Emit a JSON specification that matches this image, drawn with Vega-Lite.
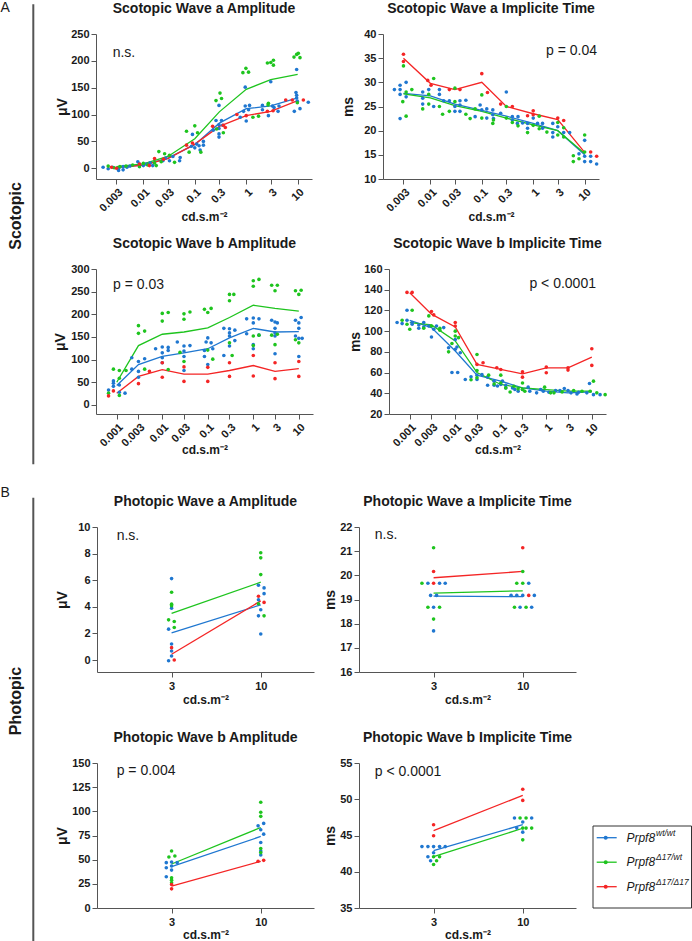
{
"$schema": "https://vega.github.io/schema/vega-lite/v6.json",
"padding": 0,
"autosize": {"type": "pad"},
"bounds": "flush",
"spacing": 493,
"config": {
 "view": {"stroke": null},
 "font": "Liberation Sans",
 "axis": {"grid": false, "domainColor": "#555", "tickColor": "#555", "tickSize": 5, "labelFont": "Liberation Sans", "labelFontSize": 11, "labelFontWeight": "bold", "labelColor": "#1a1a1a", "labelPadding": 2, "labelOverlap": false, "labelFlush": false, "titleFont": "Liberation Sans", "titleFontWeight": "bold", "titleColor": "#1a1a1a", "titleFontSize": 14},
 "title": {"font": "Liberation Sans", "fontSize": 14, "fontWeight": "bold", "color": "#1a1a1a", "anchor": "middle", "frame": "group", "offset": 12.5, "baseline": "alphabetic"},
 "text": {"font": "Liberation Sans"}
},
"datasets": {
 "pts": [
{"p":1,"g":"wt","x":0.00165,"y":2},{"p":1,"g":"wt","x":0.00207,"y":-1},{"p":1,"g":"wt","x":0.00251,"y":2},{"p":1,"g":"wt","x":0.0033,"y":0},{"p":1,"g":"wt","x":0.0033,"y":-4},{"p":1,"g":"wt","x":0.00404,"y":-3},{"p":1,"g":"wt","x":0.00404,"y":3},{"p":1,"g":"wt","x":0.0048,"y":2},{"p":1,"g":"wt","x":0.0055,"y":4},
{"p":1,"g":"wt","x":0.0078,"y":12},{"p":1,"g":"wt","x":0.0084,"y":8},{"p":1,"g":"wt","x":0.01,"y":5},{"p":1,"g":"wt","x":0.0113,"y":8},{"p":1,"g":"wt","x":0.0135,"y":10},{"p":1,"g":"wt","x":0.0152,"y":5},
{"p":1,"g":"wt","x":0.024,"y":14},{"p":1,"g":"wt","x":0.0271,"y":19},{"p":1,"g":"wt","x":0.0322,"y":14},{"p":1,"g":"wt","x":0.0375,"y":22},{"p":1,"g":"wt","x":0.0506,"y":14},{"p":1,"g":"wt","x":0.052,"y":20},
{"p":1,"g":"wt","x":0.0861,"y":41},{"p":1,"g":"wt","x":0.09,"y":63},{"p":1,"g":"wt","x":0.1,"y":38},{"p":1,"g":"wt","x":0.109,"y":45},{"p":1,"g":"wt","x":0.121,"y":42},{"p":1,"g":"wt","x":0.127,"y":34},{"p":1,"g":"wt","x":0.147,"y":50},{"p":1,"g":"wt","x":0.147,"y":43},
{"p":1,"g":"wt","x":0.2287,"y":71},{"p":1,"g":"wt","x":0.2585,"y":89},{"p":1,"g":"wt","x":0.2955,"y":81},{"p":1,"g":"wt","x":0.2955,"y":74},{"p":1,"g":"wt","x":0.2955,"y":64},{"p":1,"g":"wt","x":0.2955,"y":58},{"p":1,"g":"wt","x":0.331,"y":89},{"p":1,"g":"wt","x":0.3483,"y":80},{"p":1,"g":"wt","x":0.2955,"y":117},
{"p":1,"g":"wt","x":0.764,"y":95},{"p":1,"g":"wt","x":0.887,"y":106},{"p":1,"g":"wt","x":0.956,"y":116},{"p":1,"g":"wt","x":1,"y":88},{"p":1,"g":"wt","x":1.11,"y":109},{"p":1,"g":"wt","x":1.16,"y":117},{"p":1,"g":"wt","x":0.956,"y":151},
{"p":1,"g":"wt","x":2.066,"y":109},{"p":1,"g":"wt","x":2.066,"y":117},{"p":1,"g":"wt","x":2.7,"y":98},{"p":1,"g":"wt","x":3,"y":161},{"p":1,"g":"wt","x":3.23,"y":116},{"p":1,"g":"wt","x":3.48,"y":113},{"p":1,"g":"wt","x":4.16,"y":106},{"p":1,"g":"wt","x":4.34,"y":116},
{"p":1,"g":"wt","x":8.61,"y":106},{"p":1,"g":"wt","x":9.28,"y":141},{"p":1,"g":"wt","x":9.56,"y":136},{"p":1,"g":"wt","x":9.56,"y":131},{"p":1,"g":"wt","x":9.85,"y":125},{"p":1,"g":"wt","x":9.56,"y":184},{"p":1,"g":"wt","x":11.1,"y":111},{"p":1,"g":"wt","x":16.1,"y":123},
{"p":1,"g":"d17","x":0.00207,"y":4},{"p":1,"g":"d17","x":0.0027,"y":1},{"p":1,"g":"d17","x":0.0035,"y":3},{"p":1,"g":"d17","x":0.0046,"y":4},{"p":1,"g":"d17","x":0.0062,"y":6},
{"p":1,"g":"d17","x":0.0084,"y":3},{"p":1,"g":"d17","x":0.01,"y":9},{"p":1,"g":"d17","x":0.0121,"y":6},{"p":1,"g":"d17","x":0.0178,"y":5},
{"p":1,"g":"d17","x":0.0165,"y":10},{"p":1,"g":"d17","x":0.02,"y":31},{"p":1,"g":"d17","x":0.0222,"y":12},{"p":1,"g":"d17","x":0.0259,"y":27},{"p":1,"g":"d17","x":0.0322,"y":24},{"p":1,"g":"d17","x":0.0404,"y":11},
{"p":1,"g":"d17","x":0.069,"y":69},{"p":1,"g":"d17","x":0.0776,"y":30},{"p":1,"g":"d17","x":0.1,"y":79},{"p":1,"g":"d17","x":0.113,"y":66},{"p":1,"g":"d17","x":0.131,"y":30},
{"p":1,"g":"d17","x":0.2585,"y":126},{"p":1,"g":"d17","x":0.309,"y":140},{"p":1,"g":"d17","x":0.331,"y":130},{"p":1,"g":"d17","x":0.2664,"y":73},{"p":1,"g":"d17","x":0.3587,"y":66},
{"p":1,"g":"d17","x":0.861,"y":178},{"p":1,"g":"d17","x":0.985,"y":186},{"p":1,"g":"d17","x":1.11,"y":179},{"p":1,"g":"d17","x":1.348,"y":95},{"p":1,"g":"d17","x":1.737,"y":97},
{"p":1,"g":"d17","x":2.58,"y":196},{"p":1,"g":"d17","x":3,"y":197},{"p":1,"g":"d17","x":3.38,"y":201},{"p":1,"g":"d17","x":3.38,"y":192},{"p":1,"g":"d17","x":2.7,"y":121},{"p":1,"g":"d17","x":2.66,"y":118},
{"p":1,"g":"d17","x":8.48,"y":207},{"p":1,"g":"d17","x":9.56,"y":212},{"p":1,"g":"d17","x":10.3,"y":214},{"p":1,"g":"d17","x":11.1,"y":206},{"p":1,"g":"d17","x":9.85,"y":122},
{"p":1,"g":"dd","x":0.0024,"y":2},{"p":1,"g":"dd","x":0.003,"y":0},{"p":1,"g":"dd","x":0.0084,"y":8},{"p":1,"g":"dd","x":0.0131,"y":5},{"p":1,"g":"dd","x":0.0165,"y":18},{"p":1,"g":"dd","x":0.0247,"y":17},{"p":1,"g":"dd","x":0.069,"y":43},{"p":1,"g":"dd","x":0.09,"y":47},{"p":1,"g":"dd","x":0.2221,"y":78},{"p":1,"g":"dd","x":0.3587,"y":80},{"p":1,"g":"dd","x":0.3924,"y":76},{"p":1,"g":"dd","x":0.658,"y":100},{"p":1,"g":"dd","x":1,"y":98},{"p":1,"g":"dd","x":2.58,"y":106},{"p":1,"g":"dd","x":3.33,"y":107},{"p":1,"g":"dd","x":5.86,"y":127},{"p":1,"g":"dd","x":12.9,"y":127},{"p":1,"g":"dd","x":7.87,"y":127},

{"p":2,"g":"wt","x":0.002,"y":28.5},{"p":2,"g":"wt","x":0.00258,"y":28.5},{"p":2,"g":"wt","x":0.00258,"y":27.5},{"p":2,"g":"wt","x":0.00258,"y":22.5},{"p":2,"g":"wt","x":0.00338,"y":30},{"p":2,"g":"wt","x":0.00338,"y":27},{"p":2,"g":"wt","x":0.00258,"y":29.4},
{"p":2,"g":"wt","x":0.0071,"y":28},{"p":2,"g":"wt","x":0.0071,"y":25.5},{"p":2,"g":"wt","x":0.0071,"y":26.7},{"p":2,"g":"wt","x":0.0093,"y":28.5},{"p":2,"g":"wt","x":0.0116,"y":25},{"p":2,"g":"wt","x":0.015,"y":28.5},{"p":2,"g":"wt","x":0.015,"y":27.5},{"p":2,"g":"wt","x":0.0182,"y":26.2},
{"p":2,"g":"wt","x":0.0234,"y":26.2},{"p":2,"g":"wt","x":0.03,"y":25},{"p":2,"g":"wt","x":0.03,"y":24},{"p":2,"g":"wt","x":0.0376,"y":26.2},{"p":2,"g":"wt","x":0.0376,"y":24},{"p":2,"g":"wt","x":0.049,"y":26.3},{"p":2,"g":"wt","x":0.0376,"y":25.3},
{"p":2,"g":"wt","x":0.0742,"y":22.9},{"p":2,"g":"wt","x":0.0928,"y":25.3},{"p":2,"g":"wt","x":0.1,"y":24.3},{"p":2,"g":"wt","x":0.125,"y":24.5},{"p":2,"g":"wt","x":0.125,"y":22.6},{"p":2,"g":"wt","x":0.1636,"y":24.3},{"p":2,"g":"wt","x":0.1636,"y":23.3},{"p":2,"g":"wt","x":0.1686,"y":22.5},
{"p":2,"g":"wt","x":0.2328,"y":23.6},{"p":2,"g":"wt","x":0.3,"y":28},{"p":2,"g":"wt","x":0.3925,"y":22.9},{"p":2,"g":"wt","x":0.3925,"y":22.2},{"p":2,"g":"wt","x":0.506,"y":22.9},{"p":2,"g":"wt","x":0.491,"y":21.5},
{"p":2,"g":"wt","x":0.62,"y":21.6},{"p":2,"g":"wt","x":0.776,"y":21.5},{"p":2,"g":"wt","x":0.776,"y":20.5},{"p":2,"g":"wt","x":1,"y":22.6},{"p":2,"g":"wt","x":1.214,"y":21.5},{"p":2,"g":"wt","x":1.518,"y":21.5},{"p":2,"g":"wt","x":1.518,"y":20.5},
{"p":2,"g":"wt","x":2.4,"y":21.5},{"p":2,"g":"wt","x":2.4,"y":19.6},{"p":2,"g":"wt","x":2.4,"y":18.7},{"p":2,"g":"wt","x":3,"y":20.8},{"p":2,"g":"wt","x":3.91,"y":19.6},{"p":2,"g":"wt","x":5.1,"y":19.6},
{"p":2,"g":"wt","x":7.76,"y":15.2},{"p":2,"g":"wt","x":10,"y":18},{"p":2,"g":"wt","x":10,"y":14.7},{"p":2,"g":"wt","x":10,"y":13.6},{"p":2,"g":"wt","x":13.08,"y":14.7},{"p":2,"g":"wt","x":13.08,"y":13.6},{"p":2,"g":"wt","x":17.1,"y":13.1},
{"p":2,"g":"d17","x":0.003,"y":33.4},{"p":2,"g":"d17","x":0.00291,"y":26},{"p":2,"g":"d17","x":0.00338,"y":28},{"p":2,"g":"d17","x":0.00338,"y":23},{"p":2,"g":"d17","x":0.00436,"y":28.5},
{"p":2,"g":"d17","x":0.0071,"y":24.5},{"p":2,"g":"d17","x":0.0093,"y":27.5},{"p":2,"g":"d17","x":0.0093,"y":25.5},{"p":2,"g":"d17","x":0.0116,"y":30.8},{"p":2,"g":"d17","x":0.015,"y":25},
{"p":2,"g":"d17","x":0.0173,"y":23.4},{"p":2,"g":"d17","x":0.0234,"y":24},{"p":2,"g":"d17","x":0.03,"y":28.8},{"p":2,"g":"d17","x":0.03,"y":26},{"p":2,"g":"d17","x":0.049,"y":23.4},
{"p":2,"g":"d17","x":0.0593,"y":22.5},{"p":2,"g":"d17","x":0.0742,"y":24.5},{"p":2,"g":"d17","x":0.1,"y":27.4},{"p":2,"g":"d17","x":0.1,"y":22.6},{"p":2,"g":"d17","x":0.1686,"y":22.2},{"p":2,"g":"d17","x":0.1636,"y":21.5},
{"p":2,"g":"d17","x":0.3,"y":25},{"p":2,"g":"d17","x":0.3,"y":22.6},{"p":2,"g":"d17","x":0.3925,"y":21.7},{"p":2,"g":"d17","x":0.506,"y":21},
{"p":2,"g":"d17","x":0.776,"y":19.6},{"p":2,"g":"d17","x":1,"y":21.1},{"p":2,"g":"d17","x":1.308,"y":23},{"p":2,"g":"d17","x":1.308,"y":20.4},{"p":2,"g":"d17","x":1.843,"y":19.7},
{"p":2,"g":"d17","x":3,"y":21.7},{"p":2,"g":"d17","x":3,"y":19.1},{"p":2,"g":"d17","x":3.91,"y":18.7},{"p":2,"g":"d17","x":3.91,"y":20.6},
{"p":2,"g":"d17","x":6.02,"y":14.8},{"p":2,"g":"d17","x":6.02,"y":13.6},{"p":2,"g":"d17","x":7.76,"y":14.2},{"p":2,"g":"d17","x":10,"y":19.1},{"p":2,"g":"d17","x":10,"y":15.6},
{"p":2,"g":"dd","x":0.003,"y":35.8},{"p":2,"g":"dd","x":0.003,"y":34.3},{"p":2,"g":"dd","x":0.0089,"y":30.4},{"p":2,"g":"dd","x":0.0103,"y":29.4},{"p":2,"g":"dd","x":0.0234,"y":28.5},{"p":2,"g":"dd","x":0.0376,"y":28.5},{"p":2,"g":"dd","x":0.1,"y":31.8},{"p":2,"g":"dd","x":0.1289,"y":27.9},{"p":2,"g":"dd","x":0.2328,"y":25.5},{"p":2,"g":"dd","x":0.3925,"y":25},{"p":2,"g":"dd","x":0.776,"y":23.1},{"p":2,"g":"dd","x":1,"y":24.1},{"p":2,"g":"dd","x":1,"y":23.3},{"p":2,"g":"dd","x":3,"y":22.6},{"p":2,"g":"dd","x":3.91,"y":22.1},{"p":2,"g":"dd","x":13.08,"y":15.6},{"p":2,"g":"dd","x":17.1,"y":14.7},

{"p":3,"g":"wt","x":0.00066,"y":33},{"p":3,"g":"wt","x":0.000845,"y":53},{"p":3,"g":"wt","x":0.000845,"y":48},{"p":3,"g":"wt","x":0.000845,"y":41},{"p":3,"g":"wt","x":0.00114,"y":44},{"p":3,"g":"wt","x":0.00114,"y":28},{"p":3,"g":"wt","x":0.00152,"y":26},
{"p":3,"g":"wt","x":0.00214,"y":104},{"p":3,"g":"wt","x":0.00214,"y":79},{"p":3,"g":"wt","x":0.003,"y":96},{"p":3,"g":"wt","x":0.003,"y":74},{"p":3,"g":"wt","x":0.0041,"y":102},{"p":3,"g":"wt","x":0.003,"y":61},
{"p":3,"g":"wt","x":0.00714,"y":124},{"p":3,"g":"wt","x":0.01,"y":128},{"p":3,"g":"wt","x":0.01,"y":115},{"p":3,"g":"wt","x":0.01,"y":104},{"p":3,"g":"wt","x":0.01,"y":93},{"p":3,"g":"wt","x":0.0135,"y":127},{"p":3,"g":"wt","x":0.0135,"y":120},
{"p":3,"g":"wt","x":0.0214,"y":139},{"p":3,"g":"wt","x":0.03,"y":130},{"p":3,"g":"wt","x":0.03,"y":119},{"p":3,"g":"wt","x":0.03,"y":107},{"p":3,"g":"wt","x":0.03,"y":76},{"p":3,"g":"wt","x":0.0406,"y":131},
{"p":3,"g":"wt","x":0.0845,"y":120},{"p":3,"g":"wt","x":0.0919,"y":139},{"p":3,"g":"wt","x":0.1,"y":148},{"p":3,"g":"wt","x":0.1,"y":89},{"p":3,"g":"wt","x":0.1184,"y":137},{"p":3,"g":"wt","x":0.1287,"y":124},{"p":3,"g":"wt","x":0.0845,"y":107},
{"p":3,"g":"wt","x":0.2253,"y":169},{"p":3,"g":"wt","x":0.3,"y":168},{"p":3,"g":"wt","x":0.3,"y":159},{"p":3,"g":"wt","x":0.3,"y":152},{"p":3,"g":"wt","x":0.3931,"y":165},{"p":3,"g":"wt","x":0.3931,"y":142},{"p":3,"g":"wt","x":0.2253,"y":109},{"p":3,"g":"wt","x":0.3,"y":130},
{"p":3,"g":"wt","x":0.714,"y":190},{"p":3,"g":"wt","x":1,"y":192},{"p":3,"g":"wt","x":1,"y":181},{"p":3,"g":"wt","x":1.332,"y":190},{"p":3,"g":"wt","x":0.714,"y":157},{"p":3,"g":"wt","x":1,"y":133},{"p":3,"g":"wt","x":1,"y":124},{"p":3,"g":"wt","x":1.332,"y":154},
{"p":3,"g":"wt","x":2.535,"y":187},{"p":3,"g":"wt","x":3,"y":183},{"p":3,"g":"wt","x":3.375,"y":181},{"p":3,"g":"wt","x":3,"y":169},{"p":3,"g":"wt","x":3,"y":159},{"p":3,"g":"wt","x":3,"y":152},{"p":3,"g":"wt","x":3,"y":113},
{"p":3,"g":"wt","x":8.45,"y":187},{"p":3,"g":"wt","x":10,"y":181},{"p":3,"g":"wt","x":11.25,"y":193},{"p":3,"g":"wt","x":10,"y":169},{"p":3,"g":"wt","x":8.45,"y":152},{"p":3,"g":"wt","x":10,"y":147},{"p":3,"g":"wt","x":11.84,"y":147},{"p":3,"g":"wt","x":10,"y":107},
{"p":3,"g":"d17","x":0.00066,"y":26},{"p":3,"g":"d17","x":0.000845,"y":79},{"p":3,"g":"d17","x":0.00114,"y":76},{"p":3,"g":"d17","x":0.00114,"y":59},{"p":3,"g":"d17","x":0.00114,"y":21},{"p":3,"g":"d17","x":0.0016,"y":76},
{"p":3,"g":"d17","x":0.003,"y":175},{"p":3,"g":"d17","x":0.003,"y":158},{"p":3,"g":"d17","x":0.0041,"y":163},{"p":3,"g":"d17","x":0.0041,"y":79},
{"p":3,"g":"d17","x":0.01,"y":202},{"p":3,"g":"d17","x":0.01,"y":185},{"p":3,"g":"d17","x":0.0135,"y":204},{"p":3,"g":"d17","x":0.0135,"y":78},
{"p":3,"g":"d17","x":0.03,"y":201},{"p":3,"g":"d17","x":0.03,"y":189},{"p":3,"g":"d17","x":0.0406,"y":205},{"p":3,"g":"d17","x":0.0245,"y":116},{"p":3,"g":"d17","x":0.03,"y":96},
{"p":3,"g":"d17","x":0.0845,"y":211},{"p":3,"g":"d17","x":0.1,"y":204},{"p":3,"g":"d17","x":0.1184,"y":213},{"p":3,"g":"d17","x":0.1,"y":121},{"p":3,"g":"d17","x":0.1287,"y":101},
{"p":3,"g":"d17","x":0.3,"y":230},{"p":3,"g":"d17","x":0.3,"y":244},{"p":3,"g":"d17","x":0.3734,"y":244},{"p":3,"g":"d17","x":0.3,"y":137},{"p":3,"g":"d17","x":0.3432,"y":109},
{"p":3,"g":"d17","x":1,"y":274},{"p":3,"g":"d17","x":1,"y":262},{"p":3,"g":"d17","x":1.332,"y":277},{"p":3,"g":"d17","x":1,"y":152},{"p":3,"g":"d17","x":1.332,"y":154},{"p":3,"g":"d17","x":1,"y":131},
{"p":3,"g":"d17","x":2.535,"y":264},{"p":3,"g":"d17","x":3.375,"y":264},{"p":3,"g":"d17","x":3,"y":252},{"p":3,"g":"d17","x":2.535,"y":154},{"p":3,"g":"d17","x":3.375,"y":156},{"p":3,"g":"d17","x":3,"y":133},
{"p":3,"g":"d17","x":8.45,"y":252},{"p":3,"g":"d17","x":11.25,"y":253},{"p":3,"g":"d17","x":10,"y":244},{"p":3,"g":"d17","x":8.45,"y":144},{"p":3,"g":"d17","x":10,"y":137},
{"p":3,"g":"dd","x":0.00066,"y":20},{"p":3,"g":"dd","x":0.000845,"y":31},{"p":3,"g":"dd","x":0.003,"y":47},{"p":3,"g":"dd","x":0.00523,"y":74},{"p":3,"g":"dd","x":0.01,"y":93},{"p":3,"g":"dd","x":0.01,"y":61},{"p":3,"g":"dd","x":0.03,"y":84},{"p":3,"g":"dd","x":0.03,"y":52},{"p":3,"g":"dd","x":0.1,"y":83},{"p":3,"g":"dd","x":0.1,"y":52},{"p":3,"g":"dd","x":0.3,"y":93},{"p":3,"g":"dd","x":0.3,"y":63},{"p":3,"g":"dd","x":1,"y":109},{"p":3,"g":"dd","x":1,"y":64},{"p":3,"g":"dd","x":3,"y":93},{"p":3,"g":"dd","x":3,"y":58},{"p":3,"g":"dd","x":10,"y":96},{"p":3,"g":"dd","x":10,"y":63},

{"p":4,"g":"wt","x":0.000527,"y":108.3},{"p":4,"g":"wt","x":0.00068,"y":107.3},{"p":4,"g":"wt","x":0.00087,"y":110.5},{"p":4,"g":"wt","x":0.00087,"y":120.2},{"p":4,"g":"wt","x":0.00113,"y":108.3},{"p":4,"g":"wt","x":0.00113,"y":106.7},
{"p":4,"g":"wt","x":0.00158,"y":106},{"p":4,"g":"wt","x":0.00158,"y":102.8},{"p":4,"g":"wt","x":0.00203,"y":108.3},{"p":4,"g":"wt","x":0.00203,"y":104},{"p":4,"g":"wt","x":0.00262,"y":105},{"p":4,"g":"wt","x":0.003,"y":94.4},{"p":4,"g":"wt","x":0.00337,"y":101.8},{"p":4,"g":"wt","x":0.00557,"y":103.4},{"p":4,"g":"wt","x":0.00387,"y":105},
{"p":4,"g":"wt","x":0.00714,"y":84},{"p":4,"g":"wt","x":0.00845,"y":60},{"p":4,"g":"wt","x":0.0113,"y":60},{"p":4,"g":"wt","x":0.01,"y":92},{"p":4,"g":"wt","x":0.01,"y":82.4},{"p":4,"g":"wt","x":0.0109,"y":84.7},{"p":4,"g":"wt","x":0.0129,"y":79.2},
{"p":4,"g":"wt","x":0.0166,"y":53.3},{"p":4,"g":"wt","x":0.0222,"y":56},{"p":4,"g":"wt","x":0.03,"y":53.3},{"p":4,"g":"wt","x":0.03,"y":57.5},{"p":4,"g":"wt","x":0.0386,"y":58},{"p":4,"g":"wt","x":0.0514,"y":55.6},{"p":4,"g":"wt","x":0.0514,"y":47.8},
{"p":4,"g":"wt","x":0.0714,"y":51.7},{"p":4,"g":"wt","x":0.0714,"y":47.8},{"p":4,"g":"wt","x":0.1,"y":48.5},{"p":4,"g":"wt","x":0.1088,"y":51.7},{"p":4,"g":"wt","x":0.1287,"y":47.8},{"p":4,"g":"wt","x":0.1287,"y":45.2},{"p":4,"g":"wt","x":0.0845,"y":47},
{"p":4,"g":"wt","x":0.1814,"y":45.2},{"p":4,"g":"wt","x":0.2041,"y":43.6},{"p":4,"g":"wt","x":0.2412,"y":42},{"p":4,"g":"wt","x":0.3,"y":43.6},{"p":4,"g":"wt","x":0.3996,"y":45.9},{"p":4,"g":"wt","x":0.4335,"y":42},{"p":4,"g":"wt","x":0.613,"y":40.4},
{"p":4,"g":"wt","x":0.751,"y":43.6},{"p":4,"g":"wt","x":0.859,"y":42},{"p":4,"g":"wt","x":1.144,"y":41},{"p":4,"g":"wt","x":1.603,"y":42.6},{"p":4,"g":"wt","x":1.995,"y":42.6},
{"p":4,"g":"wt","x":2.486,"y":44.6},{"p":4,"g":"wt","x":3,"y":42.6},{"p":4,"g":"wt","x":3.489,"y":40.4},{"p":4,"g":"wt","x":4.73,"y":39.4},{"p":4,"g":"wt","x":5.14,"y":41},
{"p":4,"g":"wt","x":8.89,"y":49.4},{"p":4,"g":"wt","x":10.88,"y":38.7},{"p":4,"g":"wt","x":15.2,"y":38.7},{"p":4,"g":"wt","x":7.77,"y":40.4},
{"p":4,"g":"d17","x":0.00068,"y":110.5},{"p":4,"g":"d17","x":0.00087,"y":106.7},{"p":4,"g":"d17","x":0.001,"y":101.8},{"p":4,"g":"d17","x":0.00113,"y":120.2},
{"p":4,"g":"d17","x":0.00203,"y":102.8},{"p":4,"g":"d17","x":0.00262,"y":114.7},{"p":4,"g":"d17","x":0.003,"y":105},{"p":4,"g":"d17","x":0.00458,"y":102.8},{"p":4,"g":"d17","x":0.00458,"y":100.8},
{"p":4,"g":"d17","x":0.00714,"y":80},{"p":4,"g":"d17","x":0.00845,"y":88},{"p":4,"g":"d17","x":0.01,"y":95.3},{"p":4,"g":"d17","x":0.01,"y":100},{"p":4,"g":"d17","x":0.0118,"y":93.7},
{"p":4,"g":"d17","x":0.0222,"y":53},{"p":4,"g":"d17","x":0.03,"y":77.5},{"p":4,"g":"d17","x":0.03,"y":62},{"p":4,"g":"d17","x":0.03,"y":55},{"p":4,"g":"d17","x":0.0541,"y":57.5},
{"p":4,"g":"d17","x":0.0714,"y":49},{"p":4,"g":"d17","x":0.1,"y":50},{"p":4,"g":"d17","x":0.1,"y":57.5},{"p":4,"g":"d17","x":0.1287,"y":45.2},{"p":4,"g":"d17","x":0.1603,"y":41.3},
{"p":4,"g":"d17","x":0.1942,"y":46.8},{"p":4,"g":"d17","x":0.3,"y":50},{"p":4,"g":"d17","x":0.2412,"y":44.3},{"p":4,"g":"d17","x":0.3,"y":43.6},{"p":4,"g":"d17","x":0.338,"y":42},
{"p":4,"g":"d17","x":0.919,"y":45.9},{"p":4,"g":"d17","x":1.245,"y":40.4},{"p":4,"g":"d17","x":1.474,"y":40.4},
{"p":4,"g":"d17","x":2.22,"y":41.3},{"p":4,"g":"d17","x":3.99,"y":42.6},{"p":4,"g":"d17","x":6.09,"y":42},
{"p":4,"g":"d17","x":10.88,"y":51.7},{"p":4,"g":"d17","x":12.87,"y":40.4},{"p":4,"g":"d17","x":19.63,"y":38.7},{"p":4,"g":"d17","x":9.19,"y":42},
{"p":4,"g":"dd","x":0.00087,"y":137.4},{"p":4,"g":"dd","x":0.00113,"y":137.4},{"p":4,"g":"dd","x":0.003,"y":119},{"p":4,"g":"dd","x":0.00337,"y":115.7},{"p":4,"g":"dd","x":0.01,"y":108.3},{"p":4,"g":"dd","x":0.01,"y":105},{"p":4,"g":"dd","x":0.03,"y":67.9},{"p":4,"g":"dd","x":0.0408,"y":69.5},{"p":4,"g":"dd","x":0.0817,"y":64.6},{"p":4,"g":"dd","x":0.1,"y":63},{"p":4,"g":"dd","x":0.3,"y":60.7},{"p":4,"g":"dd","x":0.3,"y":55.6},{"p":4,"g":"dd","x":1,"y":65.3},{"p":4,"g":"dd","x":1,"y":59.8},{"p":4,"g":"dd","x":3,"y":64.6},{"p":4,"g":"dd","x":3,"y":62.4},{"p":4,"g":"dd","x":10,"y":83},{"p":4,"g":"dd","x":10,"y":66.9},

{"p":5,"g":"wt","x":3,"y":6.12},{"p":5,"g":"wt","x":3,"y":3.9},{"p":5,"g":"wt","x":2.765,"y":2.32},{"p":5,"g":"wt","x":3,"y":1.2},{"p":5,"g":"wt","x":3,"y":0.68},{"p":5,"g":"wt","x":3,"y":0.3},{"p":5,"g":"wt","x":2.765,"y":-0.05},
{"p":5,"g":"wt","x":9.82,"y":5.62},{"p":5,"g":"wt","x":10.26,"y":5.42},{"p":5,"g":"wt","x":10.26,"y":4.99},{"p":5,"g":"wt","x":9.82,"y":4.53},{"p":5,"g":"wt","x":10,"y":3.78},{"p":5,"g":"wt","x":9.82,"y":3.32},{"p":5,"g":"wt","x":10,"y":1.96},
{"p":5,"g":"d17","x":3,"y":5.09},{"p":5,"g":"d17","x":3,"y":4.2},{"p":5,"g":"d17","x":3,"y":4.08},{"p":5,"g":"d17","x":2.765,"y":3.02},{"p":5,"g":"d17","x":3.21,"y":2.9},{"p":5,"g":"d17","x":3.21,"y":2.44},
{"p":5,"g":"d17","x":10,"y":8.06},{"p":5,"g":"d17","x":10,"y":7.68},{"p":5,"g":"d17","x":10,"y":6.42},{"p":5,"g":"d17","x":9.82,"y":4.23},{"p":5,"g":"d17","x":10.26,"y":3.32},
{"p":5,"g":"dd","x":3,"y":0.93},{"p":5,"g":"dd","x":3.21,"y":0},{"p":5,"g":"dd","x":9.82,"y":4.79},{"p":5,"g":"dd","x":10.26,"y":4.33},

{"p":6,"g":"d17","x":3,"y":21.14},{"p":6,"g":"d17","x":2.086,"y":19.67},{"p":6,"g":"wt","x":2.556,"y":19.67},{"p":6,"g":"wt","x":3.47,"y":19.67},{"p":6,"g":"wt","x":3.914,"y":19.67},
{"p":6,"g":"wt","x":2.765,"y":19.17},{"p":6,"g":"wt","x":3.235,"y":19.17},{"p":6,"g":"d17","x":2.556,"y":18.68},{"p":6,"g":"wt","x":3,"y":18.68},{"p":6,"g":"d17","x":3.47,"y":18.68},{"p":6,"g":"d17","x":3,"y":18.19},{"p":6,"g":"wt","x":3,"y":17.7},
{"p":6,"g":"d17","x":10,"y":20.16},{"p":6,"g":"d17","x":9.53,"y":19.67},{"p":6,"g":"d17","x":10,"y":19.67},{"p":6,"g":"wt","x":10.47,"y":19.67},
{"p":6,"g":"wt","x":9.086,"y":19.17},{"p":6,"g":"wt","x":9.53,"y":19.17},{"p":6,"g":"wt","x":10,"y":19.17},{"p":6,"g":"wt","x":10.91,"y":19.17},
{"p":6,"g":"d17","x":9.35,"y":18.68},{"p":6,"g":"wt","x":9.79,"y":18.68},{"p":6,"g":"d17","x":10.26,"y":18.68},{"p":6,"g":"wt","x":10.7,"y":18.68},
{"p":6,"g":"dd","x":3,"y":20.16},{"p":6,"g":"dd","x":3,"y":19.67},{"p":6,"g":"dd","x":10,"y":21.14},{"p":6,"g":"dd","x":10.47,"y":19.17},

{"p":7,"g":"wt","x":2.585,"y":46.9},{"p":7,"g":"wt","x":2.585,"y":41.7},{"p":7,"g":"wt","x":2.585,"y":32.3},{"p":7,"g":"wt","x":3,"y":47.6},{"p":7,"g":"wt","x":3,"y":43.4},{"p":7,"g":"wt","x":3,"y":39.2},{"p":7,"g":"wt","x":3.44,"y":46.9},
{"p":7,"g":"d17","x":2.79,"y":52.8},{"p":7,"g":"d17","x":3,"y":59},{"p":7,"g":"d17","x":3.26,"y":53.8},{"p":7,"g":"d17","x":3,"y":31.2},{"p":7,"g":"d17","x":3,"y":28.8},{"p":7,"g":"d17","x":3,"y":26},
{"p":7,"g":"wt","x":9.79,"y":85},{"p":7,"g":"wt","x":10,"y":80.9},{"p":7,"g":"wt","x":10.23,"y":87.5},{"p":7,"g":"wt","x":10.23,"y":76.4},{"p":7,"g":"wt","x":10,"y":67.7},{"p":7,"g":"wt","x":10,"y":59},{"p":7,"g":"wt","x":10,"y":54.9},
{"p":7,"g":"d17","x":10,"y":109.4},{"p":7,"g":"d17","x":10,"y":99},{"p":7,"g":"d17","x":10,"y":94.8},{"p":7,"g":"d17","x":10,"y":61.5},{"p":7,"g":"d17","x":10,"y":57.3},
{"p":7,"g":"dd","x":3,"y":24.3},{"p":7,"g":"dd","x":3,"y":19.8},{"p":7,"g":"dd","x":9.79,"y":48.3},{"p":7,"g":"dd","x":10.23,"y":49.3},

{"p":8,"g":"wt","x":2.086,"y":43.47},{"p":8,"g":"wt","x":2.556,"y":43.47},{"p":8,"g":"wt","x":3,"y":43.47},{"p":8,"g":"wt","x":3.47,"y":43.47},{"p":8,"g":"wt","x":3.914,"y":43.47},{"p":8,"g":"wt","x":3,"y":42.63},{"p":8,"g":"wt","x":2.556,"y":42.07},{"p":8,"g":"wt","x":2.765,"y":41.51},
{"p":8,"g":"d17","x":3,"y":42.07},{"p":8,"g":"d17","x":3.47,"y":42.07},{"p":8,"g":"d17","x":3.235,"y":41.51},{"p":8,"g":"d17","x":3,"y":41.0},
{"p":8,"g":"wt","x":9.35,"y":47.41},{"p":8,"g":"d17","x":9.79,"y":47.41},{"p":8,"g":"d17","x":10.26,"y":47.41},{"p":8,"g":"wt","x":10.7,"y":47.41},{"p":8,"g":"wt","x":10,"y":46.86},
{"p":8,"g":"wt","x":9.53,"y":46.02},{"p":8,"g":"d17","x":10,"y":46.02},{"p":8,"g":"d17","x":10.26,"y":46.02},{"p":8,"g":"d17","x":10.7,"y":46.02},{"p":8,"g":"wt","x":10,"y":45.46},{"p":8,"g":"d17","x":10,"y":44.4},
{"p":8,"g":"dd","x":3,"y":46.49},{"p":8,"g":"dd","x":3,"y":44.96},{"p":8,"g":"dd","x":10,"y":51.37},{"p":8,"g":"dd","x":10,"y":49.84}
 ],
 "means": [
{"p":1,"g":"wt","x":0.003,"y":2},{"p":1,"g":"wt","x":0.01,"y":6},{"p":1,"g":"wt","x":0.03,"y":19},{"p":1,"g":"wt","x":0.1,"y":44},{"p":1,"g":"wt","x":0.3,"y":84},{"p":1,"g":"wt","x":1,"y":111},{"p":1,"g":"wt","x":3,"y":116},{"p":1,"g":"wt","x":10,"y":131},
{"p":1,"g":"d17","x":0.003,"y":3},{"p":1,"g":"d17","x":0.01,"y":8},{"p":1,"g":"d17","x":0.03,"y":22},{"p":1,"g":"d17","x":0.1,"y":55},{"p":1,"g":"d17","x":0.3,"y":105},{"p":1,"g":"d17","x":1,"y":147},{"p":1,"g":"d17","x":3,"y":165},{"p":1,"g":"d17","x":10,"y":175},
{"p":1,"g":"dd","x":0.003,"y":1},{"p":1,"g":"dd","x":0.01,"y":6},{"p":1,"g":"dd","x":0.03,"y":18},{"p":1,"g":"dd","x":0.1,"y":45},{"p":1,"g":"dd","x":0.3,"y":78},{"p":1,"g":"dd","x":1,"y":98},{"p":1,"g":"dd","x":3,"y":106},{"p":1,"g":"dd","x":10,"y":126},
{"p":2,"g":"wt","x":0.003,"y":27.7},{"p":2,"g":"wt","x":0.01,"y":27.2},{"p":2,"g":"wt","x":0.03,"y":25.5},{"p":2,"g":"wt","x":0.1,"y":24.2},{"p":2,"g":"wt","x":0.3,"y":23},{"p":2,"g":"wt","x":1,"y":21.5},{"p":2,"g":"wt","x":3,"y":20},{"p":2,"g":"wt","x":10,"y":15},
{"p":2,"g":"d17","x":0.003,"y":27.6},{"p":2,"g":"d17","x":0.01,"y":26.8},{"p":2,"g":"d17","x":0.03,"y":25.2},{"p":2,"g":"d17","x":0.1,"y":24},{"p":2,"g":"d17","x":0.3,"y":22.6},{"p":2,"g":"d17","x":1,"y":21.2},{"p":2,"g":"d17","x":3,"y":20},{"p":2,"g":"d17","x":10,"y":15.3},
{"p":2,"g":"dd","x":0.003,"y":35},{"p":2,"g":"dd","x":0.01,"y":29.8},{"p":2,"g":"dd","x":0.03,"y":28.5},{"p":2,"g":"dd","x":0.1,"y":30},{"p":2,"g":"dd","x":0.3,"y":25},{"p":2,"g":"dd","x":1,"y":23.5},{"p":2,"g":"dd","x":3,"y":22.3},{"p":2,"g":"dd","x":10,"y":15.5},
{"p":3,"g":"wt","x":0.001,"y":43},{"p":3,"g":"wt","x":0.003,"y":89},{"p":3,"g":"wt","x":0.01,"y":107},{"p":3,"g":"wt","x":0.03,"y":115},{"p":3,"g":"wt","x":0.1,"y":124},{"p":3,"g":"wt","x":0.3,"y":148},{"p":3,"g":"wt","x":1,"y":169},{"p":3,"g":"wt","x":3,"y":161},{"p":3,"g":"wt","x":10,"y":162},
{"p":3,"g":"d17","x":0.001,"y":50},{"p":3,"g":"d17","x":0.003,"y":131},{"p":3,"g":"d17","x":0.01,"y":156},{"p":3,"g":"d17","x":0.03,"y":161},{"p":3,"g":"d17","x":0.1,"y":170},{"p":3,"g":"d17","x":0.3,"y":193},{"p":3,"g":"d17","x":1,"y":220},{"p":3,"g":"d17","x":3,"y":213},{"p":3,"g":"d17","x":10,"y":207},
{"p":3,"g":"dd","x":0.001,"y":26},{"p":3,"g":"dd","x":0.003,"y":63},{"p":3,"g":"dd","x":0.01,"y":78},{"p":3,"g":"dd","x":0.03,"y":68},{"p":3,"g":"dd","x":0.1,"y":68},{"p":3,"g":"dd","x":0.3,"y":76},{"p":3,"g":"dd","x":1,"y":87},{"p":3,"g":"dd","x":3,"y":74},{"p":3,"g":"dd","x":10,"y":80},
{"p":4,"g":"wt","x":0.001,"y":110.5},{"p":4,"g":"wt","x":0.003,"y":103.4},{"p":4,"g":"wt","x":0.01,"y":80.8},{"p":4,"g":"wt","x":0.03,"y":57.5},{"p":4,"g":"wt","x":0.1,"y":51.7},{"p":4,"g":"wt","x":0.3,"y":45.2},{"p":4,"g":"wt","x":1,"y":42},{"p":4,"g":"wt","x":3,"y":40.4},{"p":4,"g":"wt","x":10,"y":41.3},
{"p":4,"g":"d17","x":0.001,"y":108.3},{"p":4,"g":"d17","x":0.003,"y":106},{"p":4,"g":"d17","x":0.01,"y":90.5},{"p":4,"g":"d17","x":0.03,"y":60},{"p":4,"g":"d17","x":0.1,"y":48.5},{"p":4,"g":"d17","x":0.3,"y":45.2},{"p":4,"g":"d17","x":1,"y":43.6},{"p":4,"g":"d17","x":3,"y":42},{"p":4,"g":"d17","x":10,"y":42},
{"p":4,"g":"dd","x":0.001,"y":137},{"p":4,"g":"dd","x":0.003,"y":116.4},{"p":4,"g":"dd","x":0.01,"y":104},{"p":4,"g":"dd","x":0.03,"y":67.9},{"p":4,"g":"dd","x":0.1,"y":63},{"p":4,"g":"dd","x":0.3,"y":58.8},{"p":4,"g":"dd","x":1,"y":64.6},{"p":4,"g":"dd","x":3,"y":64.6},{"p":4,"g":"dd","x":10,"y":75},
{"p":5,"g":"wt","x":3,"y":2.05},{"p":5,"g":"wt","x":10,"y":4.15},{"p":5,"g":"d17","x":3,"y":3.5},{"p":5,"g":"d17","x":10,"y":5.85},{"p":5,"g":"dd","x":3,"y":0.43},{"p":5,"g":"dd","x":10,"y":4.45},
{"p":6,"g":"wt","x":3,"y":19.14},{"p":6,"g":"wt","x":10,"y":19.12},{"p":6,"g":"d17","x":3,"y":19.26},{"p":6,"g":"d17","x":10,"y":19.36},{"p":6,"g":"dd","x":3,"y":19.9},{"p":6,"g":"dd","x":10,"y":20.16},
{"p":7,"g":"wt","x":3,"y":42.7},{"p":7,"g":"wt","x":10,"y":74},{"p":7,"g":"d17","x":3,"y":45.5},{"p":7,"g":"d17","x":10,"y":83.3},{"p":7,"g":"dd","x":3,"y":22.6},{"p":7,"g":"dd","x":10,"y":48.3},
{"p":8,"g":"wt","x":3,"y":42.9},{"p":8,"g":"wt","x":10,"y":46.49},{"p":8,"g":"d17","x":3,"y":42.07},{"p":8,"g":"d17","x":10,"y":46.0},{"p":8,"g":"dd","x":3,"y":45.66},{"p":8,"g":"dd","x":10,"y":50.54}
 ],
 "leg": [{"g":"wt","sup":"wt/wt"},{"g":"d17","sup":"Δ17/wt"},{"g":"dd","sup":"Δ17/Δ17"}]
},
"vconcat": [
 {"hconcat": [
  {"width": 40, "height": 380, "data": {"values": [{}]},
   "layer": [
    {"mark": {"type": "rule", "color": "#555", "strokeWidth": 2}, "encoding": {"x": {"datum": 33.3, "type": "quantitative", "scale": {"domain": [0, 40], "nice": false, "zero": false}, "axis": null}, "y": {"datum": -29.7, "type": "quantitative", "scale": {"domain": [0, 380], "reverse": true, "nice": false, "zero": false}, "axis": null}, "y2": {"datum": 430.3}}},
    {"mark": {"type": "text", "text": "A", "fontSize": 14, "align": "left", "baseline": "middle", "color": "#1a1a1a"}, "encoding": {"x": {"datum": 0.5, "type": "quantitative"}, "y": {"datum": -26.3, "type": "quantitative"}}},
    {"mark": {"type": "text", "text": "Scotopic", "fontSize": 16, "fontWeight": "bold", "angle": 270, "align": "center", "baseline": "middle", "color": "#1a1a1a"}, "encoding": {"x": {"datum": 15.5, "type": "quantitative"}, "y": {"datum": 182, "type": "quantitative"}}}
   ]},
  {"vconcat": [
   {"hconcat": [
    {"width": 216, "height": 145, "title": {"text": "Scotopic Wave a Amplitude"},
     "layer": [
      {"data": {"name": "means"}, "transform": [{"filter": "datum.p == 1"}], "mark": {"type": "line", "strokeWidth": 1.3},
       "encoding": {
        "x": {"field": "x", "type": "quantitative", "scale": {"type": "log", "domain": [0.0012, 19], "nice": false}, "axis": {"values": [0.003, 0.01, 0.03, 0.1, 0.3, 1, 3, 10], "tickCount": 30, "format": "~g", "labelAngle": -45, "labelOverlap": false, "title": "cd.s.m⁻²", "titleFontSize": 12, "titleY": 37, "titleBaseline": "middle"}},
        "y": {"field": "y", "type": "quantitative", "scale": {"domain": [-20, 250], "nice": false, "zero": false}, "axis": {"values": [0, 50, 100, 150, 200, 250], "tickCount": 30, "format": "d", "labelOverlap": false, "title": "μV", "titleX": -34, "titleBaseline": "middle"}},
        "color": {"field": "g", "type": "nominal", "scale": {"domain": ["wt", "d17", "dd"], "range": ["#1f77d0", "#1ec41e", "#f42525"]}, "legend": null}}},
      {"data": {"name": "pts"}, "transform": [{"filter": "datum.p == 1"}], "mark": {"type": "circle", "size": 13, "opacity": 1},
       "encoding": {"x": {"field": "x", "type": "quantitative"}, "y": {"field": "y", "type": "quantitative"}, "color": {"field": "g", "type": "nominal", "legend": null}}},
      {"data": {"values": [{}]}, "mark": {"type": "text", "text": "n.s.", "fontSize": 14, "align": "left", "baseline": "middle", "color": "#1a1a1a"}, "encoding": {"x": {"datum": 0.00253, "type": "quantitative"}, "y": {"datum": 215, "type": "quantitative"}}}
     ]},
    {"width": 216, "height": 145, "title": {"text": "Scotopic Wave a Implicite Time"},
     "layer": [
      {"data": {"name": "means"}, "transform": [{"filter": "datum.p == 2"}], "mark": {"type": "line", "strokeWidth": 1.3},
       "encoding": {
        "x": {"field": "x", "type": "quantitative", "scale": {"type": "log", "domain": [0.0012, 19], "nice": false}, "axis": {"values": [0.003, 0.01, 0.03, 0.1, 0.3, 1, 3, 10], "tickCount": 30, "format": "~g", "labelAngle": -45, "labelOverlap": false, "title": "cd.s.m⁻²", "titleFontSize": 12, "titleY": 37, "titleBaseline": "middle"}},
        "y": {"field": "y", "type": "quantitative", "scale": {"domain": [10, 40], "nice": false, "zero": false}, "axis": {"values": [10, 15, 20, 25, 30, 35, 40], "tickCount": 30, "format": "d", "labelOverlap": false, "title": "ms", "titleX": -35, "titleBaseline": "middle"}},
        "color": {"field": "g", "type": "nominal", "scale": {"domain": ["wt", "d17", "dd"], "range": ["#1f77d0", "#1ec41e", "#f42525"]}, "legend": null}}},
      {"data": {"name": "pts"}, "transform": [{"filter": "datum.p == 2"}], "mark": {"type": "circle", "size": 13, "opacity": 1},
       "encoding": {"x": {"field": "x", "type": "quantitative"}, "y": {"field": "y", "type": "quantitative"}, "color": {"field": "g", "type": "nominal", "legend": null}}},
      {"data": {"values": [{}]}, "mark": {"type": "text", "text": "p = 0.04", "fontSize": 14, "align": "right", "baseline": "middle", "color": "#1a1a1a"}, "encoding": {"x": {"datum": 17.4, "type": "quantitative"}, "y": {"datum": 36.5, "type": "quantitative"}}}
     ]}
   ], "spacing": 71, "bounds": "flush"},
   {"hconcat": [
    {"width": 217, "height": 145, "title": {"text": "Scotopic Wave b Amplitude"},
     "layer": [
      {"data": {"name": "means"}, "transform": [{"filter": "datum.p == 3"}], "mark": {"type": "line", "strokeWidth": 1.3},
       "encoding": {
        "x": {"field": "x", "type": "quantitative", "scale": {"type": "log", "domain": [0.00035, 20.5], "nice": false}, "axis": {"values": [0.001, 0.003, 0.01, 0.03, 0.1, 0.3, 1, 3, 10], "tickCount": 30, "format": "~g", "labelAngle": -45, "labelOverlap": false, "title": "cd.s.m⁻²", "titleFontSize": 12, "titleY": 35, "titleBaseline": "middle"}},
        "y": {"field": "y", "type": "quantitative", "scale": {"domain": [-20, 300], "nice": false, "zero": false}, "axis": {"values": [0, 50, 100, 150, 200, 250, 300], "tickCount": 30, "format": "d", "labelOverlap": false, "title": "μV", "titleX": -36, "titleBaseline": "middle"}},
        "color": {"field": "g", "type": "nominal", "scale": {"domain": ["wt", "d17", "dd"], "range": ["#1f77d0", "#1ec41e", "#f42525"]}, "legend": null}}},
      {"data": {"name": "pts"}, "transform": [{"filter": "datum.p == 3"}], "mark": {"type": "circle", "size": 13, "opacity": 1},
       "encoding": {"x": {"field": "x", "type": "quantitative"}, "y": {"field": "y", "type": "quantitative"}, "color": {"field": "g", "type": "nominal", "legend": null}}},
      {"data": {"values": [{}]}, "mark": {"type": "text", "text": "p = 0.03", "fontSize": 14, "align": "left", "baseline": "middle", "color": "#1a1a1a"}, "encoding": {"x": {"datum": 0.000827, "type": "quantitative"}, "y": {"datum": 264, "type": "quantitative"}}}
     ]},
    {"width": 217, "height": 145, "title": {"text": "Scotopic Wave b Implicite Time"},
     "layer": [
      {"data": {"name": "means"}, "transform": [{"filter": "datum.p == 4"}], "mark": {"type": "line", "strokeWidth": 1.3},
       "encoding": {
        "x": {"field": "x", "type": "quantitative", "scale": {"type": "log", "domain": [0.00035, 20.5], "nice": false}, "axis": {"values": [0.001, 0.003, 0.01, 0.03, 0.1, 0.3, 1, 3, 10], "tickCount": 30, "format": "~g", "labelAngle": -45, "labelOverlap": false, "title": "cd.s.m⁻²", "titleFontSize": 12, "titleY": 35, "titleBaseline": "middle"}},
        "y": {"field": "y", "type": "quantitative", "scale": {"domain": [20, 160], "nice": false, "zero": false}, "axis": {"values": [20, 40, 60, 80, 100, 120, 140, 160], "tickCount": 30, "format": "d", "labelOverlap": false, "title": "ms", "titleX": -34, "titleBaseline": "middle"}},
        "color": {"field": "g", "type": "nominal", "scale": {"domain": ["wt", "d17", "dd"], "range": ["#1f77d0", "#1ec41e", "#f42525"]}, "legend": null}}},
      {"data": {"name": "pts"}, "transform": [{"filter": "datum.p == 4"}], "mark": {"type": "circle", "size": 13, "opacity": 1},
       "encoding": {"x": {"field": "x", "type": "quantitative"}, "y": {"field": "y", "type": "quantitative"}, "color": {"field": "g", "type": "nominal", "legend": null}}},
      {"data": {"values": [{}]}, "mark": {"type": "text", "text": "p < 0.0001", "fontSize": 14, "align": "right", "baseline": "middle", "color": "#1a1a1a"}, "encoding": {"x": {"datum": 12.35, "type": "quantitative"}, "y": {"datum": 145.5, "type": "quantitative"}}}
     ]}
   ], "spacing": 76, "bounds": "flush"}
  ], "spacing": 235, "bounds": "flush"}
 ], "spacing": 56, "bounds": "flush"},
 {"hconcat": [
  {"width": 40, "height": 381, "data": {"values": [{}]},
   "layer": [
    {"mark": {"type": "rule", "color": "#555", "strokeWidth": 2}, "encoding": {"x": {"datum": 33.3, "type": "quantitative", "scale": {"domain": [0, 40], "nice": false, "zero": false}, "axis": null}, "y": {"datum": -29.3, "type": "quantitative", "scale": {"domain": [0, 381], "reverse": true, "nice": false, "zero": false}, "axis": null}, "y2": {"datum": 414}}},
    {"mark": {"type": "text", "text": "B", "fontSize": 14, "align": "left", "baseline": "middle", "color": "#1a1a1a"}, "encoding": {"x": {"datum": 0.5, "type": "quantitative"}, "y": {"datum": -34.3, "type": "quantitative"}}},
    {"mark": {"type": "text", "text": "Photopic", "fontSize": 16, "fontWeight": "bold", "angle": 270, "align": "center", "baseline": "middle", "color": "#1a1a1a"}, "encoding": {"x": {"datum": 15.5, "type": "quantitative"}, "y": {"datum": 174, "type": "quantitative"}}}
   ]},
  {"vconcat": [
   {"hconcat": [
    {"width": 217, "height": 145, "title": {"text": "Photopic Wave a Amplitude"},
     "layer": [
      {"data": {"name": "means"}, "transform": [{"filter": "datum.p == 5"}], "mark": {"type": "line", "strokeWidth": 1.3},
       "encoding": {
        "x": {"field": "x", "type": "quantitative", "scale": {"domain": [-2.855, 14.18], "nice": false, "zero": false}, "axis": {"values": [3, 10], "tickCount": 30, "format": "d", "labelAngle": 0, "labelPadding": 3, "labelOverlap": false, "title": "cd.s.m⁻²", "titleFontSize": 12, "titleY": 27, "titleBaseline": "middle"}},
        "y": {"field": "y", "type": "quantitative", "scale": {"domain": [-0.9, 10], "nice": false, "zero": false}, "axis": {"values": [0, 2, 4, 6, 8, 10], "tickCount": 30, "format": "d", "labelOverlap": false, "title": "μV", "titleX": -35, "titleBaseline": "middle"}},
        "color": {"field": "g", "type": "nominal", "scale": {"domain": ["wt", "d17", "dd"], "range": ["#1f77d0", "#1ec41e", "#f42525"]}, "legend": null}}},
      {"data": {"name": "pts"}, "transform": [{"filter": "datum.p == 5"}], "mark": {"type": "circle", "size": 13, "opacity": 1},
       "encoding": {"x": {"field": "x", "type": "quantitative"}, "y": {"field": "y", "type": "quantitative"}, "color": {"field": "g", "type": "nominal", "legend": null}}},
      {"data": {"values": [{}]}, "mark": {"type": "text", "text": "n.s.", "fontSize": 14, "align": "left", "baseline": "middle", "color": "#1a1a1a"}, "encoding": {"x": {"datum": -1.31, "type": "quantitative"}, "y": {"datum": 9.32, "type": "quantitative"}}}
     ]},
    {"width": 217, "height": 145, "title": {"text": "Photopic Wave a Implicite Time"},
     "layer": [
      {"data": {"name": "means"}, "transform": [{"filter": "datum.p == 6"}], "mark": {"type": "line", "strokeWidth": 1.3},
       "encoding": {
        "x": {"field": "x", "type": "quantitative", "scale": {"domain": [-2.855, 14.18], "nice": false, "zero": false}, "axis": {"values": [3, 10], "tickCount": 30, "format": "d", "labelAngle": 0, "labelPadding": 3, "labelOverlap": false, "title": "cd.s.m⁻²", "titleFontSize": 12, "titleY": 27, "titleBaseline": "middle"}},
        "y": {"field": "y", "type": "quantitative", "scale": {"domain": [16, 22], "nice": false, "zero": false}, "axis": {"values": [16, 17, 18, 19, 20, 21, 22], "tickCount": 30, "format": "d", "labelOverlap": false, "title": "ms", "titleX": -29, "titleBaseline": "middle"}},
        "color": {"field": "g", "type": "nominal", "scale": {"domain": ["wt", "d17", "dd"], "range": ["#1f77d0", "#1ec41e", "#f42525"]}, "legend": null}}},
      {"data": {"name": "pts"}, "transform": [{"filter": "datum.p == 6"}], "mark": {"type": "circle", "size": 13, "opacity": 1},
       "encoding": {"x": {"field": "x", "type": "quantitative"}, "y": {"field": "y", "type": "quantitative"}, "color": {"field": "g", "type": "nominal", "legend": null}}},
      {"data": {"values": [{}]}, "mark": {"type": "text", "text": "n.s.", "fontSize": 14, "align": "left", "baseline": "middle", "color": "#1a1a1a"}, "encoding": {"x": {"datum": -1.62, "type": "quantitative"}, "y": {"datum": 21.65, "type": "quantitative"}}}
     ]}
   ], "spacing": 45, "bounds": "flush"},
   {"hconcat": [
    {"width": 217, "height": 145, "title": {"text": "Photopic Wave b Amplitude"},
     "layer": [
      {"data": {"name": "means"}, "transform": [{"filter": "datum.p == 7"}], "mark": {"type": "line", "strokeWidth": 1.3},
       "encoding": {
        "x": {"field": "x", "type": "quantitative", "scale": {"domain": [-2.855, 14.18], "nice": false, "zero": false}, "axis": {"values": [3, 10], "tickCount": 30, "format": "d", "labelAngle": 0, "labelPadding": 3, "labelOverlap": false, "title": "cd.s.m⁻²", "titleFontSize": 12, "titleY": 26, "titleBaseline": "middle"}},
        "y": {"field": "y", "type": "quantitative", "scale": {"domain": [0, 150], "nice": false, "zero": false}, "axis": {"values": [0, 25, 50, 75, 100, 125, 150], "tickCount": 30, "format": "d", "labelOverlap": false, "title": "μV", "titleX": -35, "titleBaseline": "middle"}},
        "color": {"field": "g", "type": "nominal", "scale": {"domain": ["wt", "d17", "dd"], "range": ["#1f77d0", "#1ec41e", "#f42525"]}, "legend": null}}},
      {"data": {"name": "pts"}, "transform": [{"filter": "datum.p == 7"}], "mark": {"type": "circle", "size": 13, "opacity": 1},
       "encoding": {"x": {"field": "x", "type": "quantitative"}, "y": {"field": "y", "type": "quantitative"}, "color": {"field": "g", "type": "nominal", "legend": null}}},
      {"data": {"values": [{}]}, "mark": {"type": "text", "text": "p = 0.004", "fontSize": 14, "align": "left", "baseline": "middle", "color": "#1a1a1a"}, "encoding": {"x": {"datum": -1.31, "type": "quantitative"}, "y": {"datum": 141.4, "type": "quantitative"}}}
     ]},
    {"hconcat": [
     {"width": 217, "height": 145, "title": {"text": "Photopic Wave b Implicite Time"},
      "layer": [
       {"data": {"name": "means"}, "transform": [{"filter": "datum.p == 8"}], "mark": {"type": "line", "strokeWidth": 1.3},
        "encoding": {
         "x": {"field": "x", "type": "quantitative", "scale": {"domain": [-2.855, 14.18], "nice": false, "zero": false}, "axis": {"values": [3, 10], "tickCount": 30, "format": "d", "labelAngle": 0, "labelPadding": 3, "labelOverlap": false, "title": "cd.s.m⁻²", "titleFontSize": 12, "titleY": 26, "titleBaseline": "middle"}},
         "y": {"field": "y", "type": "quantitative", "scale": {"domain": [35, 55], "nice": false, "zero": false}, "axis": {"values": [35, 40, 45, 50, 55], "tickCount": 30, "format": "d", "labelOverlap": false, "title": "ms", "titleX": -29, "titleBaseline": "middle"}},
         "color": {"field": "g", "type": "nominal", "scale": {"domain": ["wt", "d17", "dd"], "range": ["#1f77d0", "#1ec41e", "#f42525"]}, "legend": null}}},
       {"data": {"name": "pts"}, "transform": [{"filter": "datum.p == 8"}], "mark": {"type": "circle", "size": 13, "opacity": 1},
        "encoding": {"x": {"field": "x", "type": "quantitative"}, "y": {"field": "y", "type": "quantitative"}, "color": {"field": "g", "type": "nominal", "legend": null}}},
       {"data": {"values": [{}]}, "mark": {"type": "text", "text": "p < 0.0001", "fontSize": 14, "align": "left", "baseline": "middle", "color": "#1a1a1a"}, "encoding": {"x": {"datum": -1.62, "type": "quantitative"}, "y": {"datum": 53.8, "type": "quantitative"}}}
      ]},
     {"width": 99, "height": 145, "data": {"name": "leg"},
      "layer": [
       {"data": {"values": [{}]}, "mark": {"type": "rect", "filled": false, "stroke": "#333", "strokeWidth": 1},
        "encoding": {"x": {"datum": 0, "type": "quantitative", "scale": {"domain": [0, 99], "nice": false, "zero": false}, "axis": null}, "x2": {"datum": 98.5}, "y": {"datum": 63, "type": "quantitative", "scale": {"domain": [0, 145], "reverse": true, "nice": false, "zero": false}, "axis": null}, "y2": {"datum": 145}}},
       {"mark": {"type": "rule", "strokeWidth": 1.3},
        "encoding": {"x": {"datum": 3.7, "type": "quantitative"}, "x2": {"datum": 23.7}, "y": {"field": "g", "type": "nominal", "scale": {"type": "point", "domain": ["wt", "d17", "dd"], "range": [74.7, 123.7], "padding": 0}, "axis": null}, "color": {"field": "g", "type": "nominal", "legend": null}}},
       {"mark": {"type": "circle", "size": 16, "opacity": 1},
        "encoding": {"x": {"datum": 12.7, "type": "quantitative"}, "y": {"field": "g", "type": "nominal", "scale": {"type": "point", "domain": ["wt", "d17", "dd"], "range": [74.7, 123.7], "padding": 0}, "axis": null}, "color": {"field": "g", "type": "nominal", "legend": null}}},
       {"mark": {"type": "text", "text": "Prpf8", "fontSize": 12, "fontStyle": "italic", "align": "left", "baseline": "middle", "color": "#1a1a1a"},
        "encoding": {"x": {"datum": 33.4, "type": "quantitative"}, "y": {"field": "g", "type": "nominal", "scale": {"type": "point", "domain": ["wt", "d17", "dd"], "range": [74.7, 123.7], "padding": 0}, "axis": null}}},
       {"mark": {"type": "text", "fontSize": 8.5, "fontStyle": "italic", "align": "left", "baseline": "middle", "dy": -5, "color": "#1a1a1a"},
        "encoding": {"x": {"datum": 63, "type": "quantitative"}, "y": {"field": "g", "type": "nominal", "scale": {"type": "point", "domain": ["wt", "d17", "dd"], "range": [74.7, 123.7], "padding": 0}, "axis": null}, "text": {"field": "sup"}}}
      ],
      "resolve": {"scale": {"y": "independent"}}}
    ], "spacing": 17, "bounds": "flush"}
   ], "spacing": 45, "bounds": "flush"}
  ], "spacing": 236, "bounds": "flush"}
 ], "spacing": 57, "bounds": "flush"}
]
}
